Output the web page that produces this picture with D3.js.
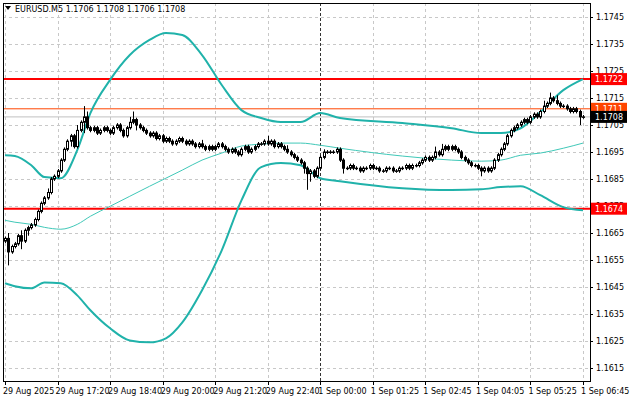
<!DOCTYPE html>
<html>
<head>
<meta charset="utf-8">
<script src="https://cdn.jsdelivr.net/npm/d3@7"></script>
<style>
  body { margin: 0; background: #fff; }
  text { font-family: "DejaVu Sans", sans-serif; font-size: 8px; }
</style>
</head>
<body>
<svg id="chart" width="640" height="401"></svg>
<script>
// prices in pips above 1.1600
const startOpen = 62;
const closes = [63,58,60,61, 64,62,66,67,68, 70,73,76,78,80,85, 86,88,92,96,99,101,
  97,103,106,108,104,
  103,104,102,103,104,103,102,104,105,103,101,104,106,107,105,
  104,103,102,101,102,100,101,99,100,99,98,99,100,99,
  98,99,98,97,98,97,96,97,96,97,98,97,
  96,95,96,95,94,96,97,95,96,
  97,98,98,99,98,99,97,98,97,
  96,95,94,93,92,91,89,87,88,
  86,89,93,
  95,95,95,95,96,92,
  89,89,90,89,89,88,89,89,90,89,89,88,88,89,89,88,88,89,89,90,89,90,90,
  91,92,93,92,93,95,94,96,97,96,97,96,95,
  93,92,91,90,90,89,88,89,88,89,
  92,94,96,98,101,103,
  104,105,106,107,106,108,109,108,110,112,113,
  115,114,113,112,112,111,110,111,110,108,108];
// notable wicks: [bar, extra pips]
const highWicks = [[1,2],[5,2],[13,1.5],[22,2],[24,4],[25,2],[38,2],[39,3],[60,1.5],[80,2],[86,1.5],[97,1],[131,2],[133,2],[164,2],[166,2],[168,2]];
const lowWicks = [[1,5],[5,3],[7,2],[24,4],[20,2],[40,2],[92,6],[93,3],[91,2],[103,2],[145,2],[175,3]];

// Bollinger bands sampled at bar indices
const bandIdx = [0,3,8,12,17,22,26,32,38,44,49,54,60,66,72,78,84,90,96,102,121,136,145,151,157,163,170,176];
const upperBand = [93.8,93.5,90.1,85.7,85.3,95.7,109.4,121.7,130.9,136.5,139.1,138.3,130.9,119.8,110.5,107.6,106.1,106.1,109.4,107.6,105.7,103.8,102,102,103.8,109.8,117.9,122];
const middleBand = [69.7,69,68.2,67.1,66.4,68.2,71.2,74.9,78.6,82.3,85.3,88.3,92,94.6,97.2,97.9,98.3,98.3,97.5,96.4,93.5,92,91.6,92,93.8,94.6,96.4,98.3];
const lowerBand = [46.4,45.3,44.5,46.7,46.4,41.9,36.4,29.7,25.2,24.5,26,31.9,43.8,58.6,77.1,89.4,90.9,90.1,85.3,84.2,81.6,80.9,81.2,82,82.3,79,74.6,73.4];

const timeTicks = [0,16,32,48,64,80,96,112,128,144,160,176];
const timeLabels = ["29 Aug 2025","29 Aug 17:20","29 Aug 18:40","29 Aug 20:00","29 Aug 21:20","29 Aug 22:40","1 Sep 00:00","1 Sep 01:25","1 Sep 02:45","1 Sep 04:05","1 Sep 05:25","1 Sep 06:45"];
const priceTicks = d3.range(0, 14).map(i => 1.1615 + i * 0.001);
const levels = [
  {price: 1.1722, color: "#ff0000", width: 2, label: "#ff0000"},
  {price: 1.1674, color: "#ff0000", width: 2, label: "#ff0000"},
  {price: 1.1711, color: "#ff4500", width: 1, label: "#ff4500"},
  {price: 1.1708, color: "#c0c0c0", width: 1, label: "#000000"}
];
const header = "EURUSD.M5  1.1706 1.1708 1.1706 1.1708";

const pip = v => 1.16 + v / 10000;
const svg = d3.select("#chart");
const pLeft = 3, pRight = 590, pTop = 3, pBottom = 381;

const x = d3.scaleLinear().domain([0, 176]).range([5, 583]);
const y = d3.scaleLinear().domain([1.1615, 1.1745]).range([368, 17]);

// grid
const grid = svg.append("g").attr("stroke", "#c8c8c8").attr("stroke-dasharray", "3,3").attr("stroke-width", 1);
grid.selectAll(".hg").data(priceTicks).join("line")
  .attr("x1", pLeft).attr("x2", pRight)
  .attr("y1", d => Math.round(y(d)) + 0.5).attr("y2", d => Math.round(y(d)) + 0.5);
grid.selectAll(".vg").data(timeTicks.filter(t => t !== 96)).join("line")
  .attr("x1", d => Math.round(x(d)) + 0.5).attr("x2", d => Math.round(x(d)) + 0.5)
  .attr("y1", pTop).attr("y2", pBottom);
svg.append("line").attr("x1", Math.round(x(96)) + 0.5).attr("x2", Math.round(x(96)) + 0.5)
  .attr("y1", pTop).attr("y2", pBottom).attr("stroke", "#333").attr("stroke-dasharray", "3,2");

// level lines
svg.append("g").selectAll("line").data(levels).join("line")
  .attr("x1", pLeft).attr("x2", pRight)
  .attr("y1", d => y(d.price)).attr("y2", d => y(d.price))
  .attr("stroke", d => d.color).attr("stroke-width", d => d.width);

// bands
const line = arr => d3.line().x((d, i) => x(bandIdx[i])).y(d => y(pip(d))).curve(d3.curveMonotoneX)(arr);
svg.append("path").attr("d", line(upperBand)).attr("fill", "none").attr("stroke", "#20b2aa").attr("stroke-width", 2);
svg.append("path").attr("d", line(lowerBand)).attr("fill", "none").attr("stroke", "#20b2aa").attr("stroke-width", 2);
svg.append("path").attr("d", line(middleBand)).attr("fill", "none").attr("stroke", "#40c8b8").attr("stroke-width", 1);

// candles
const hw = new Map(highWicks), lw = new Map(lowWicks);
const bars = closes.map((c, i) => {
  const o = i === 0 ? startOpen : closes[i - 1];
  return {i, o, c, h: Math.max(o, c) + (hw.get(i) || 0.7), l: Math.min(o, c) - (lw.get(i) || 0.7)};
});
const cg = svg.append("g").selectAll("g").data(bars).join("g");
cg.append("line")
  .attr("x1", d => Math.round(x(d.i)) + 0.5).attr("x2", d => Math.round(x(d.i)) + 0.5)
  .attr("y1", d => y(pip(d.h))).attr("y2", d => y(pip(d.l))).attr("stroke", "#000");
cg.append("rect")
  .attr("x", d => Math.round(x(d.i)) - 1 + 0.5)
  .attr("y", d => y(pip(Math.max(d.o, d.c))))
  .attr("width", 2)
  .attr("height", d => Math.max(0.5, y(pip(Math.min(d.o, d.c))) - y(pip(Math.max(d.o, d.c)))))
  .attr("fill", d => d.c >= d.o ? "#fff" : "#000").attr("stroke", "#000").attr("stroke-width", 1);

// frame
svg.append("rect").attr("x", pLeft + 0.5).attr("y", pTop + 0.5).attr("width", pRight - pLeft).attr("height", pBottom - pTop)
  .attr("fill", "none").attr("stroke", "#000");

// price axis
const pa = svg.append("g");
pa.selectAll("line").data(priceTicks).join("line")
  .attr("x1", pRight).attr("x2", pRight + 3)
  .attr("y1", d => Math.round(y(d)) + 0.5).attr("y2", d => Math.round(y(d)) + 0.5).attr("stroke", "#000");
pa.selectAll("text").data(priceTicks).join("text")
  .attr("x", pRight + 6).attr("y", d => y(d) + 3).text(d => d.toFixed(4));

// level labels
const lg = svg.append("g").selectAll("g").data(levels).join("g");
lg.append("rect").attr("x", pRight + 1).attr("y", d => y(d.price) - 6).attr("width", 36).attr("height", 12)
  .attr("fill", d => d.label);
lg.append("text").attr("x", pRight + 5).attr("y", d => y(d.price) + 3).attr("fill", "#fff")
  .text(d => d.price.toFixed(4));

// time axis
const ta = svg.append("g");
ta.selectAll("line").data(timeTicks).join("line")
  .attr("x1", d => Math.round(x(d)) + 0.5).attr("x2", d => Math.round(x(d)) + 0.5)
  .attr("y1", pBottom).attr("y2", pBottom + 4).attr("stroke", "#000");
ta.selectAll("text").data(timeTicks).join("text")
  .attr("x", d => x(d) - 2).attr("y", pBottom + 13).text((d, i) => timeLabels[i]);

// header
svg.append("path").attr("d", "M5,6 L11,6 L8,10 Z").attr("fill", "#000");
svg.append("text").attr("x", 15).attr("y", 12).text(header);
</script>
</body>
</html>
